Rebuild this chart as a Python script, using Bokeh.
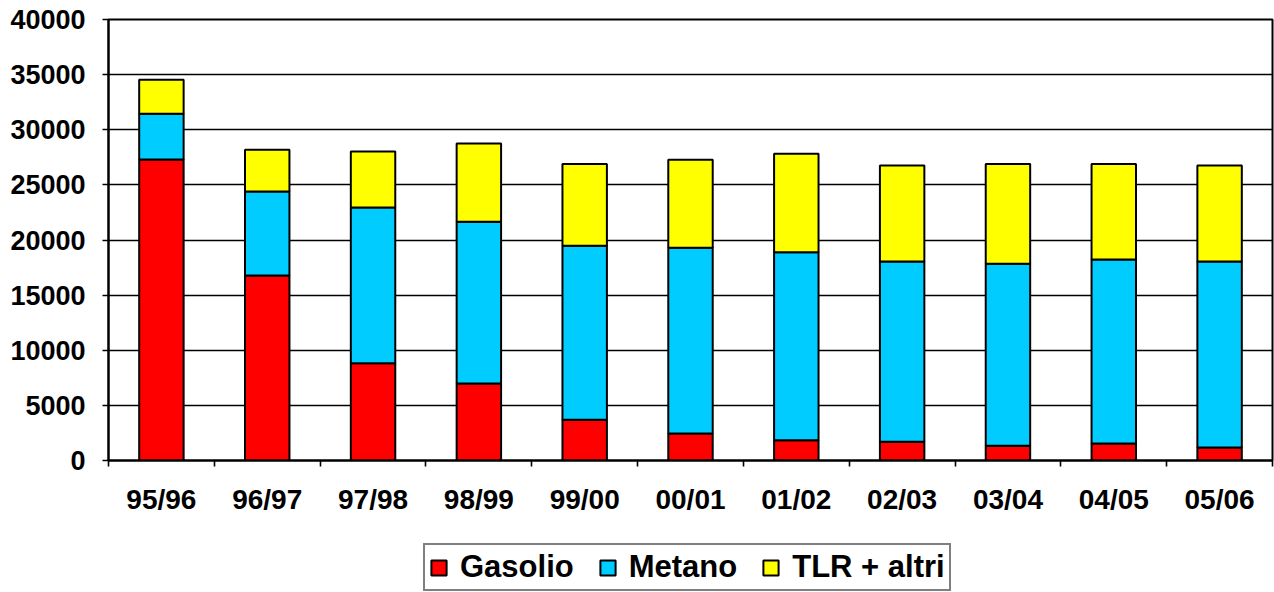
from bokeh.plotting import figure
from bokeh.layouts import column
from bokeh.models import ColumnDataSource, FixedTicker, Legend, LegendItem, Range1d
from bokeh.embed import file_html
from bokeh.resources import INLINE

years = ["95/96", "96/97", "97/98", "98/99", "99/00", "00/01", "01/02", "02/03", "03/04", "04/05", "05/06"]
gasolio = [27300, 16780, 8830, 6980, 3690, 2450, 1840, 1690, 1330, 1540, 1180]
metano = [4150, 7620, 14120, 14670, 15780, 16840, 17060, 16360, 16510, 16690, 16870]
tlr_altri = [3080, 3780, 5080, 7100, 7430, 7980, 8920, 8710, 9060, 8670, 8710]
series = ["Gasolio", "Metano", "TLR + altri"]
colors = ["#FF0000", "#00CCFF", "#FFFF00"]
y_ticks = [0, 5000, 10000, 15000, 20000, 25000, 30000, 35000, 40000]

xs = list(range(len(years)))
source = ColumnDataSource(dict(x=xs, gasolio=gasolio, metano=metano, tlr=tlr_altri))
font = "Liberation Sans"
stack_cols = ["gasolio", "metano", "tlr"]

p = figure(width=1274, height=532, output_backend="svg", toolbar_location=None,
           x_range=Range1d(-0.5, len(years) - 0.5), y_range=Range1d(0, 40000),
           min_border_left=108, min_border_right=2, min_border_top=19, min_border_bottom=72)
p.background_fill_color = "white"
p.border_fill_color = "white"
p.outline_line_color = "black"
p.outline_line_width = 2

rs = p.vbar_stack(stack_cols, x="x", width=0.42, source=source,
                  fill_color=colors, line_color="black", line_width=2)

p.xgrid.grid_line_color = None
p.ygrid.ticker = FixedTicker(ticks=y_ticks)
p.ygrid.grid_line_color = "black"
p.ygrid.grid_line_width = 1.6

p.yaxis.ticker = FixedTicker(ticks=y_ticks)
p.yaxis.major_label_text_font = font
p.yaxis.major_label_text_font_style = "bold"
p.yaxis.major_label_text_font_size = "27px"
p.yaxis.major_label_text_color = "black"
p.yaxis.major_tick_out = 6
p.yaxis.major_tick_in = 0
p.yaxis.minor_tick_line_color = None
p.yaxis.major_label_standoff = 17
p.yaxis.axis_line_width = 2
p.yaxis.major_tick_line_width = 1.6

p.xaxis.ticker = FixedTicker(ticks=xs, minor_ticks=[i - 0.5 for i in range(len(years) + 1)])
p.xaxis.major_label_overrides = {i: y for i, y in enumerate(years)}
p.xaxis.major_tick_line_color = None
p.xaxis.major_tick_out = 0
p.xaxis.major_tick_in = 0
p.xaxis.minor_tick_out = 6
p.xaxis.minor_tick_in = 0
p.xaxis.minor_tick_line_width = 1.6
p.xaxis.minor_tick_line_color = "black"
p.xaxis.axis_line_width = 2
p.xaxis.major_label_text_font = font
p.xaxis.major_label_text_font_style = "bold"
p.xaxis.major_label_text_font_size = "28px"
p.xaxis.major_label_text_color = "black"
p.xaxis.major_label_standoff = 17

# legend strip below the chart (its frame is aligned with the chart frame by the column layout)
q = figure(width=1274, height=60, output_backend="svg", toolbar_location=None,
           x_range=Range1d(-0.5, len(years) - 0.5), y_range=Range1d(0, 40000),
           min_border_left=108, min_border_right=2, min_border_top=0, min_border_bottom=0)
q.axis.visible = False
q.grid.grid_line_color = None
q.outline_line_color = None
q.background_fill_color = "white"
q.border_fill_color = "white"
legend_renderers = q.vbar_stack(stack_cols, x="x", width=0.42, source=source,
                                fill_color=colors, line_color="black", line_width=2)
for r in legend_renderers:
    r.visible = False  # only used to draw the legend swatches

legend = Legend(items=[LegendItem(label=s, renderers=[r]) for s, r in zip(series, legend_renderers)],
                location=(315, 1), orientation="horizontal")
legend.label_text_font = font
legend.label_text_font_style = "bold"
legend.label_text_font_size = "31px"
legend.label_text_color = "black"
legend.glyph_width = 19
legend.glyph_height = 19
legend.label_standoff = 12
legend.spacing = 24
legend.padding = 4
legend.margin = 0
legend.border_line_color = "black"
legend.border_line_width = 2
legend.background_fill_color = "white"
legend.inactive_fill_alpha = 0
q.add_layout(legend, "center")

layout = column(p, q, spacing=0)
open("out.html", "w").write(file_html(layout, INLINE))
